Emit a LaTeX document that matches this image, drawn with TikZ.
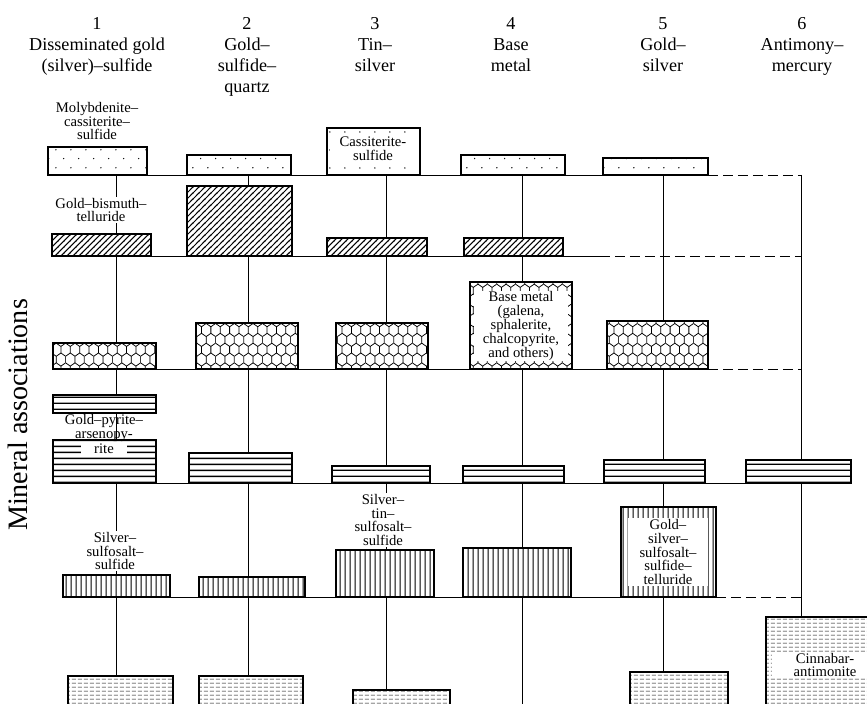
\documentclass[tikz,border=0pt]{standalone}
\usepackage{fontspec}
\setmainfont{Liberation Serif}
\usetikzlibrary{patterns.meta}

\tikzdeclarepattern{
  name=sparsedots, type=uncolored,
  bottom left={(0pt,0pt)}, top right={(13pt,15.4pt)},
  tile size={(13pt,15.4pt)},
  code={\fill (3.25pt,3.85pt) circle (0.65pt) (9.75pt,11.55pt) circle (0.65pt);}
}
\tikzdeclarepattern{
  name=widehatch, type=uncolored,
  bottom left={(0pt,0pt)}, top right={(5pt,5pt)},
  tile size={(5pt,5pt)},
  code={\draw[line width=0.9pt] (-1pt,-1pt) -- (6pt,6pt) (-1pt,4pt) -- (1pt,6pt) (4pt,-1pt) -- (6pt,1pt);}
}
\tikzdeclarepattern{
  name=hexcells, type=uncolored,
  bottom left={(0pt,-2.8pt)}, top right={(8pt,14pt)},
  tile size={(8pt,16.8pt)},
  code={\draw[line width=0.65pt] (4pt,-2.8pt) -- (4pt,2.8pt)
    (0pt,5.6pt) -- (4pt,2.8pt) -- (8pt,5.6pt)
    (0pt,5.6pt) -- (0pt,11.2pt) (8pt,5.6pt) -- (8pt,11.2pt)
    (0pt,11.2pt) -- (4pt,14pt) -- (8pt,11.2pt);}
}
\tikzdeclarepattern{
  name=hbands, type=uncolored,
  bottom left={(0pt,0pt)}, top right={(5pt,4.8pt)},
  tile size={(5pt,4.8pt)},
  code={\draw[line width=1.2pt] (-1pt,2.4pt) -- (6pt,2.4pt);}
}
\tikzdeclarepattern{
  name=vbands, type=uncolored,
  bottom left={(0pt,0pt)}, top right={(3.9pt,5pt)},
  tile size={(3.9pt,5pt)},
  code={\draw[line width=0.9pt] (1.95pt,-1pt) -- (1.95pt,6pt);}
}
\tikzdeclarepattern{
  name=dashrows, type=uncolored,
  bottom left={(0pt,0pt)}, top right={(5.1pt,3.6pt)},
  tile size={(5.1pt,3.6pt)},
  code={\draw[line width=0.55pt] (0.85pt,1.8pt) -- (4.25pt,1.8pt);}
}

\tikzset{
  link/.style={line width=0.6pt},
  dashlink/.style={link, dash pattern=on 8.5pt off 4.3pt},
  ore/.style={draw, line width=0.9pt, preaction={fill=white}},
  hdr/.style={font=\fontsize{15.5}{18}\selectfont, align=center, anchor=north, inner sep=0pt},
  lbl/.style={font=\fontsize{12.5}{11.8}\selectfont, align=center, inner sep=1pt},
  whitelbl/.style={lbl, fill=white},
}

\begin{document}
\begin{tikzpicture}[x=0.3mm, y=-0.3mm]
\useasboundingbox (0,0) rectangle (867,704);
\clip (0,0) rectangle (867,704);

% deposit types
\node[hdr] (h1) at (97,17) {1\\Disseminated gold\\(silver)--sulfide};
\node[hdr] (h2) at (247,17) {2\\Gold--\\sulfide--\\quartz};
\node[hdr] (h3) at (375,17) {3\\Tin--\\silver};
\node[hdr] (h4) at (511,17) {4\\Base\\metal};
\node[hdr] (h5) at (663,17) {5\\Gold--\\silver};
\node[hdr] (h6) at (802,17) {6\\Antimony--\\mercury};
\node[rotate=90, font=\fontsize{24}{28}\selectfont] (axis) at (18,415) {Mineral associations};

% levels
\foreach \y/\xa/\xb/\xc in {175/48/708/801, 256/52/600/801, 369/53/708/801, 597/63/716/801} {
  \coordinate (lv\y a) at (\xa,\y);
  \coordinate (lv\y b) at (\xb,\y);
  \coordinate (lv\y c) at (\xc,\y);
  \draw[link] (lv\y a) -- (lv\y b);
  \draw[dashlink] (lv\y b) -- (lv\y c);
}
\coordinate (lv483a) at (53,483);
\coordinate (lv483b) at (851,483);
\draw[link] (lv483a) -- (lv483b);

% columns
\foreach \n/\x/\yb in {1/116/676, 2/248/676, 3/386/690, 4/522/720, 5/663/672, 6/801/617} {
  \coordinate (top\n) at (\x,175);
  \coordinate (bot\n) at (\x,\yb);
  \draw[link] (top\n) -- (bot\n);
}

% associations
\foreach \xa/\ya/\xb/\yb in {48/147/147/175, 187/155/291/175, 327/128/420/175, 461/155/565/175, 603/158/708/175}
  \draw[ore, pattern=sparsedots] (\xa,\ya) rectangle (\xb,\yb);
\foreach \xa/\ya/\xb/\yb in {52/234/151/256, 187/186/292/256, 327/238/427/256, 464/238/563/256}
  \draw[ore, pattern=widehatch] (\xa,\ya) rectangle (\xb,\yb);
\foreach \xa/\ya/\xb/\yb in {53/343/156/369, 196/323/298/369, 336/323/428/369, 470/282/572/369, 607/321/708/369}
  \draw[ore, pattern=hexcells] (\xa,\ya) rectangle (\xb,\yb);
\foreach \xa/\ya/\xb/\yb in {53/395/156/413, 53/440/156/483, 189/453/292/483, 332/466/430/483, 463/466/564/483, 604/460/705/483, 746/460/851/483}
  \draw[ore, pattern=hbands] (\xa,\ya) rectangle (\xb,\yb);
\foreach \xa/\ya/\xb/\yb in {63/575/170/597, 199/577/305/597, 336/550/434/597, 463/548/571/597, 621/507/716/597}
  \draw[ore, pattern=vbands] (\xa,\ya) rectangle (\xb,\yb);
\foreach \xa/\ya/\xb/\yb in {68/676/173/720, 199/676/303/720, 353/690/450/720, 630/672/728/720, 766/617/880/720}
  \draw[ore, pattern=dashrows] (\xa,\ya) rectangle (\xb,\yb);

% names
\node[lbl] (molyb) at (97,121) {Molybdenite--\\cassiterite--\\sulfide};
\node[whitelbl] (bism) at (101,210) {Gold--bismuth--\\telluride};
\node[lbl] (pyr) at (104,428) {Gold--pyrite--\\arsenopy-};
\node[whitelbl, minimum width=14mm] (rite) at (104,449) {rite};
\node[whitelbl] (agsulf) at (115,551) {Silver--\\sulfosalt--\\sulfide};
\node[whitelbl, minimum width=26mm] (cassit) at (373,149) {Cassiterite-\\sulfide};
\node[whitelbl, minimum width=28mm] (basem) at (521,326) {Base metal\\(galena,\\sphalerite,\\chalcopyrite,\\and others)};
\node[whitelbl] (agsn) at (383,520) {Silver--\\tin--\\sulfosalt--\\sulfide};
\node[whitelbl, minimum width=24mm] (auag) at (668,552) {Gold--\\silver--\\sulfosalt--\\sulfide--\\telluride};
\node[whitelbl, minimum width=32mm] (cinn) at (825,665) {Cinnabar-\\antimonite};
\end{tikzpicture}
\end{document}
